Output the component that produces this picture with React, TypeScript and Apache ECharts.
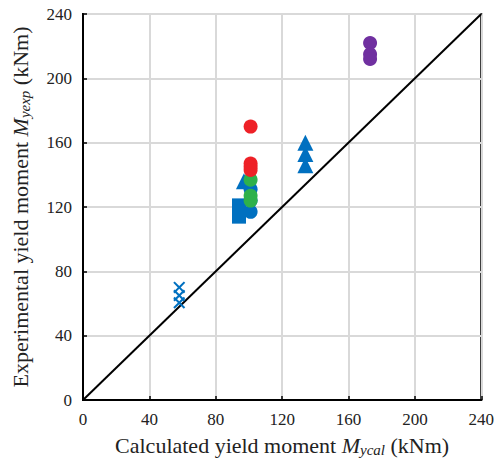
import React, { useEffect, useRef } from "react";
import * as echarts from "echarts";

const axisTicks = [0, 40, 80, 120, 160, 200, 240];

const blueSquares: [number, number][] = [[94, 121], [94, 117], [94, 114]];
const blueCircles: [number, number][] = [[101, 131], [101, 124], [101, 117]];
const blueTriangles: [number, number][] = [[97, 136], [134, 160], [134, 153], [134, 146]];
const blueCrosses: [number, number][] = [[58, 70], [58, 65], [58, 60.5]];
const greenCircles: [number, number][] = [[101, 137], [101, 127], [101, 124]];
const redCircles: [number, number][] = [[101, 170], [101, 147], [101, 145], [101, 143]];
const purpleCircles: [number, number][] = [[173, 222], [173, 215], [173, 212]];
const equalityLine: [number, number][] = [[0, 0], [240, 240]];

const BLUE = "#0070C0";
const GREEN = "#2EB14B";
const RED = "#EE2127";
const PURPLE = "#7030A0";

const CROSS = "path://M0,1.2L1.2,0L5,3.8L8.8,0L10,1.2L6.2,5L10,8.8L8.8,10L5,6.2L1.2,10L0,8.8L3.8,5Z";

export default function App() {
  const ref = useRef<HTMLDivElement>(null);
  useEffect(() => {
    const chart = echarts.init(ref.current!, undefined, { renderer: "svg" });
    const font = "Liberation Serif";
    const nameRich = {
      n: { fontFamily: font, fontSize: 22, color: "#222" },
      i: { fontFamily: font, fontSize: 22, fontStyle: "italic", color: "#222" },
      s: { fontFamily: font, fontSize: 15, fontStyle: "italic", color: "#222", padding: [8, 0, 0, 0] },
    };
    const axisCommon = {
      type: "value",
      min: 0,
      max: 240,
      interval: 40,
      axisLine: { show: true, lineStyle: { color: "#000", width: 2 } },
      axisTick: { show: true, inside: true, length: 4, lineStyle: { color: "#000", width: 1.5 } },
      splitLine: { show: true, lineStyle: { color: "#d9d9d9", width: 2 } },
      axisLabel: { fontFamily: font, fontSize: 17, color: "#222", margin: 11 },
      nameLocation: "middle",
    };
    chart.setOption({
      animation: false,
      textStyle: { fontFamily: font },
      grid: {
        left: 83,
        right: 11,
        top: 14,
        bottom: 59,
        show: true,
        borderColor: "#000",
        borderWidth: 2,
        backgroundColor: "transparent",
      },
      xAxis: {
        ...axisCommon,
        name: "{n|Calculated yield moment }{i|M}{s|ycal}{n| (kNm)}",
        nameGap: 34,
        nameTextStyle: { fontFamily: font, fontSize: 22, rich: nameRich },
      },
      yAxis: {
        ...axisCommon,
        name: "{n|Experimental yield moment }{i|M}{s|yexp}{n| (kNm)}",
        nameGap: 51,
        nameTextStyle: { fontFamily: font, fontSize: 22, rich: nameRich },
      },
      series: [
        {
          type: "line",
          data: equalityLine,
          symbol: "none",
          lineStyle: { color: "#000", width: 2 },
          z: 1,
        },
        { type: "scatter", data: blueCrosses, symbol: CROSS, symbolSize: 12, itemStyle: { color: BLUE, opacity: 1 }, z: 2 },
        { type: "scatter", data: blueSquares, symbol: "rect", symbolSize: [14, 14], itemStyle: { color: BLUE, opacity: 1 }, z: 2 },
        { type: "scatter", data: blueTriangles, symbol: "triangle", symbolSize: 16, itemStyle: { color: BLUE, opacity: 1 }, z: 2 },
        { type: "scatter", data: blueCircles, symbol: "circle", symbolSize: 14, itemStyle: { color: BLUE, opacity: 1 }, z: 3 },
        { type: "scatter", data: greenCircles, symbol: "circle", symbolSize: 14, itemStyle: { color: GREEN, opacity: 1 }, z: 4 },
        { type: "scatter", data: redCircles, symbol: "circle", symbolSize: 14, itemStyle: { color: RED, opacity: 1 }, z: 5 },
        { type: "scatter", data: purpleCircles, symbol: "circle", symbolSize: 14, itemStyle: { color: PURPLE, opacity: 1 }, z: 5 },
      ],
    });
    return () => chart.dispose();
  }, []);
  return <div ref={ref} style={{ width: 497, height: 462, position: "absolute", left: 0, top: 0 }} />;
}
